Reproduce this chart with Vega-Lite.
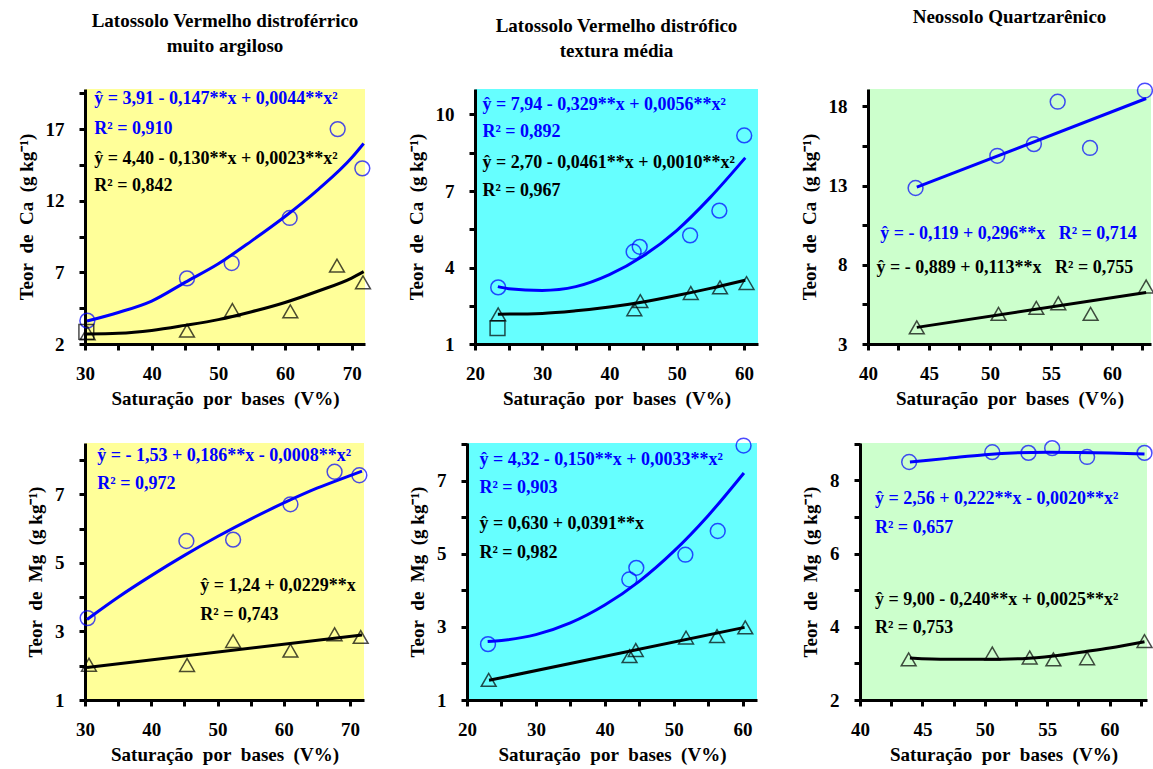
{
  "$schema": "https://vega.github.io/schema/vega-lite/v6.json",
  "background": "white",
  "padding": {"left": 17, "top": 8, "right": 4, "bottom": 2},
  "datasets": {
    "pts": [
      {"p": 1, "s": "A", "x": 30.35, "y": 3.63}, {"p": 1, "s": "A", "x": 45.3, "y": 6.58}, {"p": 1, "s": "A", "x": 52.0, "y": 7.65},
      {"p": 1, "s": "A", "x": 60.7, "y": 10.8}, {"p": 1, "s": "A", "x": 67.9, "y": 17.0}, {"p": 1, "s": "A", "x": 71.6, "y": 14.26},
      {"p": 1, "s": "B", "x": 30.4, "y": 2.75}, {"p": 1, "s": "B", "x": 45.3, "y": 2.93}, {"p": 1, "s": "B", "x": 52.1, "y": 4.37},
      {"p": 1, "s": "B", "x": 60.8, "y": 4.28}, {"p": 1, "s": "B", "x": 67.8, "y": 7.47}, {"p": 1, "s": "B", "x": 71.7, "y": 6.3},
      {"p": 1, "s": "C", "x": 30.2, "y": 2.85},
      {"p": 2, "s": "A", "x": 23.45, "y": 3.22}, {"p": 2, "s": "A", "x": 43.6, "y": 4.62}, {"p": 2, "s": "A", "x": 44.5, "y": 4.81},
      {"p": 2, "s": "A", "x": 52.0, "y": 5.26}, {"p": 2, "s": "A", "x": 56.35, "y": 6.23}, {"p": 2, "s": "A", "x": 60.05, "y": 9.18},
      {"p": 2, "s": "B", "x": 23.45, "y": 2.16}, {"p": 2, "s": "B", "x": 43.7, "y": 2.36}, {"p": 2, "s": "B", "x": 44.6, "y": 2.68},
      {"p": 2, "s": "B", "x": 52.1, "y": 3.0}, {"p": 2, "s": "B", "x": 56.45, "y": 3.22}, {"p": 2, "s": "B", "x": 60.4, "y": 3.39},
      {"p": 2, "s": "C", "x": 23.35, "y": 1.62},
      {"p": 3, "s": "A", "x": 43.9, "y": 12.85}, {"p": 3, "s": "A", "x": 50.6, "y": 14.88}, {"p": 3, "s": "A", "x": 53.6, "y": 15.62},
      {"p": 3, "s": "A", "x": 55.55, "y": 18.3}, {"p": 3, "s": "A", "x": 58.2, "y": 15.38}, {"p": 3, "s": "A", "x": 62.7, "y": 19.0},
      {"p": 3, "s": "B", "x": 44.0, "y": 4.05}, {"p": 3, "s": "B", "x": 50.7, "y": 4.9}, {"p": 3, "s": "B", "x": 53.8, "y": 5.28},
      {"p": 3, "s": "B", "x": 55.6, "y": 5.57}, {"p": 3, "s": "B", "x": 58.25, "y": 4.9}, {"p": 3, "s": "B", "x": 62.8, "y": 6.63},
      {"p": 4, "s": "A", "x": 30.4, "y": 3.39}, {"p": 4, "s": "A", "x": 45.3, "y": 5.64}, {"p": 4, "s": "A", "x": 52.35, "y": 5.68},
      {"p": 4, "s": "A", "x": 61.0, "y": 6.71}, {"p": 4, "s": "A", "x": 67.66, "y": 7.66}, {"p": 4, "s": "A", "x": 71.4, "y": 7.56},
      {"p": 4, "s": "B", "x": 30.6, "y": 2.03}, {"p": 4, "s": "B", "x": 45.4, "y": 2.02}, {"p": 4, "s": "B", "x": 52.35, "y": 2.72},
      {"p": 4, "s": "B", "x": 61.0, "y": 2.44}, {"p": 4, "s": "B", "x": 67.66, "y": 2.92}, {"p": 4, "s": "B", "x": 71.6, "y": 2.84},
      {"p": 5, "s": "A", "x": 23.05, "y": 2.53}, {"p": 5, "s": "A", "x": 43.56, "y": 4.3}, {"p": 5, "s": "A", "x": 44.58, "y": 4.62},
      {"p": 5, "s": "A", "x": 51.7, "y": 4.98}, {"p": 5, "s": "A", "x": 56.4, "y": 5.63}, {"p": 5, "s": "A", "x": 60.15, "y": 7.97},
      {"p": 5, "s": "B", "x": 23.15, "y": 1.55}, {"p": 5, "s": "B", "x": 43.6, "y": 2.2}, {"p": 5, "s": "B", "x": 44.5, "y": 2.37},
      {"p": 5, "s": "B", "x": 51.8, "y": 2.71}, {"p": 5, "s": "B", "x": 56.3, "y": 2.75}, {"p": 5, "s": "B", "x": 60.4, "y": 2.99},
      {"p": 6, "s": "A", "x": 43.94, "y": 8.5}, {"p": 6, "s": "A", "x": 50.6, "y": 8.77}, {"p": 6, "s": "A", "x": 53.5, "y": 8.75},
      {"p": 6, "s": "A", "x": 55.4, "y": 8.88}, {"p": 6, "s": "A", "x": 58.2, "y": 8.64}, {"p": 6, "s": "A", "x": 62.8, "y": 8.75},
      {"p": 6, "s": "B", "x": 43.9, "y": 3.11}, {"p": 6, "s": "B", "x": 50.6, "y": 3.27}, {"p": 6, "s": "B", "x": 53.6, "y": 3.16},
      {"p": 6, "s": "B", "x": 55.5, "y": 3.11}, {"p": 6, "s": "B", "x": 58.2, "y": 3.14}, {"p": 6, "s": "B", "x": 62.8, "y": 3.61}
    ],
    "crv": [
      {"p": 1, "s": "A", "x": 30.3, "y": 3.6}, {"p": 1, "s": "A", "x": 35, "y": 4.2}, {"p": 1, "s": "A", "x": 40, "y": 5.0},
      {"p": 1, "s": "A", "x": 45, "y": 6.3}, {"p": 1, "s": "A", "x": 50, "y": 7.6}, {"p": 1, "s": "A", "x": 55, "y": 9.2},
      {"p": 1, "s": "A", "x": 60, "y": 10.9}, {"p": 1, "s": "A", "x": 65, "y": 12.8}, {"p": 1, "s": "A", "x": 70, "y": 15.0},
      {"p": 1, "s": "A", "x": 71.8, "y": 16.0},
      {"p": 1, "s": "B", "x": 30.3, "y": 2.7}, {"p": 1, "s": "B", "x": 35, "y": 2.75}, {"p": 1, "s": "B", "x": 40, "y": 2.95},
      {"p": 1, "s": "B", "x": 45, "y": 3.3}, {"p": 1, "s": "B", "x": 50, "y": 3.7}, {"p": 1, "s": "B", "x": 55, "y": 4.25},
      {"p": 1, "s": "B", "x": 60, "y": 4.9}, {"p": 1, "s": "B", "x": 65, "y": 5.7}, {"p": 1, "s": "B", "x": 70, "y": 6.6},
      {"p": 1, "s": "B", "x": 71.8, "y": 7.05},
      {"p": 2, "s": "A", "x": 23.4, "y": 3.25}, {"p": 2, "s": "A", "x": 25, "y": 3.17}, {"p": 2, "s": "A", "x": 30, "y": 3.1},
      {"p": 2, "s": "A", "x": 35, "y": 3.25}, {"p": 2, "s": "A", "x": 40, "y": 3.72}, {"p": 2, "s": "A", "x": 45, "y": 4.45},
      {"p": 2, "s": "A", "x": 50, "y": 5.45}, {"p": 2, "s": "A", "x": 55, "y": 6.75}, {"p": 2, "s": "A", "x": 60.2, "y": 8.3},
      {"p": 2, "s": "B", "x": 23.4, "y": 2.17}, {"p": 2, "s": "B", "x": 30, "y": 2.2}, {"p": 2, "s": "B", "x": 35, "y": 2.3},
      {"p": 2, "s": "B", "x": 40, "y": 2.45}, {"p": 2, "s": "B", "x": 45, "y": 2.65}, {"p": 2, "s": "B", "x": 50, "y": 2.9},
      {"p": 2, "s": "B", "x": 55, "y": 3.18}, {"p": 2, "s": "B", "x": 60.2, "y": 3.5},
      {"p": 3, "s": "A", "x": 44, "y": 12.9}, {"p": 3, "s": "A", "x": 62.8, "y": 18.5},
      {"p": 3, "s": "B", "x": 44, "y": 4.05}, {"p": 3, "s": "B", "x": 62.8, "y": 6.25},
      {"p": 4, "s": "A", "x": 30.3, "y": 3.35}, {"p": 4, "s": "A", "x": 35, "y": 4.0}, {"p": 4, "s": "A", "x": 40, "y": 4.63},
      {"p": 4, "s": "A", "x": 45, "y": 5.22}, {"p": 4, "s": "A", "x": 50, "y": 5.77}, {"p": 4, "s": "A", "x": 55, "y": 6.28},
      {"p": 4, "s": "A", "x": 60, "y": 6.75}, {"p": 4, "s": "A", "x": 65, "y": 7.18}, {"p": 4, "s": "A", "x": 70, "y": 7.55},
      {"p": 4, "s": "A", "x": 71.8, "y": 7.68},
      {"p": 4, "s": "B", "x": 30.3, "y": 1.95}, {"p": 4, "s": "B", "x": 71.8, "y": 2.9},
      {"p": 5, "s": "A", "x": 23, "y": 2.6}, {"p": 5, "s": "A", "x": 25, "y": 2.63}, {"p": 5, "s": "A", "x": 30, "y": 2.79},
      {"p": 5, "s": "A", "x": 35, "y": 3.11}, {"p": 5, "s": "A", "x": 40, "y": 3.6}, {"p": 5, "s": "A", "x": 45, "y": 4.25},
      {"p": 5, "s": "A", "x": 50, "y": 5.07}, {"p": 5, "s": "A", "x": 55, "y": 6.05}, {"p": 5, "s": "A", "x": 60.2, "y": 7.22},
      {"p": 5, "s": "B", "x": 23.2, "y": 1.54}, {"p": 5, "s": "B", "x": 60.3, "y": 2.99},
      {"p": 6, "s": "A", "x": 44, "y": 8.5}, {"p": 6, "s": "A", "x": 47, "y": 8.6}, {"p": 6, "s": "A", "x": 50, "y": 8.7},
      {"p": 6, "s": "A", "x": 55, "y": 8.77}, {"p": 6, "s": "A", "x": 60, "y": 8.75}, {"p": 6, "s": "A", "x": 62.8, "y": 8.72},
      {"p": 6, "s": "B", "x": 44, "y": 3.15}, {"p": 6, "s": "B", "x": 47, "y": 3.11}, {"p": 6, "s": "B", "x": 50, "y": 3.11},
      {"p": 6, "s": "B", "x": 53, "y": 3.13}, {"p": 6, "s": "B", "x": 55.5, "y": 3.2}, {"p": 6, "s": "B", "x": 58, "y": 3.32},
      {"p": 6, "s": "B", "x": 60, "y": 3.42}, {"p": 6, "s": "B", "x": 62.8, "y": 3.59}
    ],
    "lbl": [
      {"p": 1, "s": "A", "x": 31.4, "y": 18.74, "t": "ŷ = 3,91 - 0,147**x + 0,0044**x²"},
      {"p": 1, "s": "A", "x": 31.4, "y": 16.65, "t": "R² = 0,910"},
      {"p": 1, "s": "B", "x": 31.4, "y": 14.56, "t": "ŷ = 4,40 - 0,130**x + 0,0023**x²"},
      {"p": 1, "s": "B", "x": 31.4, "y": 12.65, "t": "R² = 0,842"},
      {"p": 2, "s": "A", "x": 21.1, "y": 10.17, "t": "ŷ = 7,94 - 0,329**x + 0,0056**x²"},
      {"p": 2, "s": "A", "x": 21.1, "y": 9.11, "t": "R² = 0,892"},
      {"p": 2, "s": "B", "x": 21.1, "y": 7.9, "t": "ŷ = 2,70 - 0,0461**x + 0,0010**x²"},
      {"p": 2, "s": "B", "x": 21.1, "y": 6.81, "t": "R² = 0,967"},
      {"p": 3, "s": "A", "x": 41.0, "y": 9.65, "t": "ŷ = - 0,119 + 0,296**x\u00a0\u00a0\u00a0R² = 0,714"},
      {"p": 3, "s": "B", "x": 40.7, "y": 7.47, "t": "ŷ = - 0,889 + 0,113**x\u00a0\u00a0\u00a0R² = 0,755"},
      {"p": 4, "s": "A", "x": 31.85, "y": 7.97, "t": "ŷ = - 1,53 + 0,186**x - 0,0008**x²"},
      {"p": 4, "s": "A", "x": 31.85, "y": 7.15, "t": "R² = 0,972"},
      {"p": 4, "s": "B", "x": 47.4, "y": 4.17, "t": "ŷ = 1,24 + 0,0229**x"},
      {"p": 4, "s": "B", "x": 47.4, "y": 3.33, "t": "R² = 0,743"},
      {"p": 5, "s": "A", "x": 21.8, "y": 7.45, "t": "ŷ = 4,32 - 0,150**x + 0,0033**x²"},
      {"p": 5, "s": "A", "x": 21.8, "y": 6.67, "t": "R² = 0,903"},
      {"p": 5, "s": "B", "x": 21.8, "y": 5.69, "t": "ŷ = 0,630 + 0,0391**x"},
      {"p": 5, "s": "B", "x": 21.8, "y": 4.9, "t": "R² = 0,982"},
      {"p": 6, "s": "A", "x": 41.2, "y": 7.35, "t": "ŷ = 2,56 + 0,222**x - 0,0020**x²"},
      {"p": 6, "s": "A", "x": 41.2, "y": 6.55, "t": "R² = 0,657"},
      {"p": 6, "s": "B", "x": 41.2, "y": 4.59, "t": "ŷ = 9,00 - 0,240**x + 0,0025**x²"},
      {"p": 6, "s": "B", "x": 41.2, "y": 3.82, "t": "R² = 0,753"}
    ]
  },
  "config": {
    "view": {"stroke": null},
    "axis": {
      "grid": false, "ticks": true, "domainColor": "black", "domainWidth": 3, "tickColor": "black", "tickWidth": 3, "tickSize": 6,
      "labelFont": "Liberation Serif", "labelFontSize": 19, "labelFontWeight": "bold", "labelColor": "black",
      "titleFont": "Liberation Serif", "titleFontSize": 19, "titleFontWeight": "bold", "titleColor": "black",
      "labelOverlap": false, "labelFlush": false
    },
    "axisX": {"labelPadding": 14, "titlePadding": 6},
    "axisY": {"labelPadding": 15, "titlePadding": 9},
    "title": {"font": "Liberation Serif", "fontSize": 19, "fontWeight": "bold", "color": "black", "anchor": "middle", "frame": "group", "offset": 28, "lineHeight": 25, "baseline": "bottom"},
    "point": {"filled": false, "strokeWidth": 1.5, "size": 220},
    "line": {"interpolate": "monotone", "strokeWidth": 3},
    "text": {"align": "left", "baseline": "alphabetic", "font": "Liberation Serif", "fontSize": 18, "fontWeight": "bold"}
  },
  "spacing": 26,
  "vconcat": [
    {
      "spacing": 110,
      "bounds": "flush",
      "resolve": {"scale": {"x": "independent", "y": "independent"}},
      "hconcat": [
        {
          "width": 280, "height": 255,
          "title": {"text": ["Latossolo Vermelho distroférrico", "muito argiloso"]},
          "view": {"fill": "#FFFF99", "stroke": null},
          "encoding": {
            "x": {"field": "x", "type": "quantitative", "scale": {"domain": [30, 72], "nice": false, "zero": false},
              "axis": {"title": "Saturação\u00a0 por\u00a0 bases\u00a0 (V%)", "values": [30, 35, 40, 45, 50, 55, 60, 65, 70], "labelExpr": "datum.value % 10 == 0 ? format(datum.value, 'd') : ''"}},
            "y": {"field": "y", "type": "quantitative", "scale": {"domain": [2, 19.8], "nice": false, "zero": false},
              "axis": {"title": "Teor\u00a0 de\u00a0 Ca\u00a0 (g kg⁻¹)", "values": [2, 4.5, 7, 9.5, 12, 14.5, 17, 19.5], "labelExpr": "datum.value % 5 == 2 ? format(datum.value, 'd') : ''"}}
          },
          "layer": [
            {"data": {"name": "crv"}, "transform": [{"filter": "datum.p == 1"}], "mark": "line",
              "encoding": {"color": {"field": "s", "type": "nominal", "scale": {"domain": ["A", "B", "C"], "range": ["#0000FF", "#000000", "#000000"]}, "legend": null}}},
            {"data": {"name": "pts"}, "transform": [{"filter": "datum.p == 1"}], "mark": "point",
              "encoding": {"color": {"field": "s", "type": "nominal", "scale": {"domain": ["A", "B", "C"], "range": ["#0000FF", "#000000", "#000000"]}, "legend": null},
                "shape": {"field": "s", "type": "nominal", "scale": {"domain": ["A", "B", "C"], "range": ["circle", "triangle-up", "square"]}, "legend": null}}},
            {"data": {"name": "lbl"}, "transform": [{"filter": "datum.p == 1"}], "mark": "text",
              "encoding": {"text": {"field": "t"}, "color": {"field": "s", "type": "nominal", "scale": {"domain": ["A", "B", "C"], "range": ["#0000FF", "#000000", "#000000"]}, "legend": null}}}
          ]
        },
        {
          "width": 283, "height": 255,
          "title": {"text": ["Latossolo Vermelho distrófico", "textura média"]},
          "view": {"fill": "#66FFFF", "stroke": null},
          "encoding": {
            "x": {"field": "x", "type": "quantitative", "scale": {"domain": [20, 62.1], "nice": false, "zero": false},
              "axis": {"title": "Saturação\u00a0 por\u00a0 bases\u00a0 (V%)", "values": [20, 25, 30, 35, 40, 45, 50, 55, 60], "labelExpr": "datum.value % 10 == 0 ? format(datum.value, 'd') : ''"}},
            "y": {"field": "y", "type": "quantitative", "scale": {"domain": [1, 11], "nice": false, "zero": false},
              "axis": {"title": "Teor\u00a0 de\u00a0 Ca\u00a0 (g kg⁻¹)", "values": [1, 2.5, 4, 5.5, 7, 8.5, 10], "labelExpr": "datum.value % 3 == 1 ? format(datum.value, 'd') : ''"}}
          },
          "layer": [
            {"data": {"name": "crv"}, "transform": [{"filter": "datum.p == 2"}], "mark": "line",
              "encoding": {"color": {"field": "s", "type": "nominal", "scale": {"domain": ["A", "B", "C"], "range": ["#0000FF", "#000000", "#000000"]}, "legend": null}}},
            {"data": {"name": "pts"}, "transform": [{"filter": "datum.p == 2"}], "mark": "point",
              "encoding": {"color": {"field": "s", "type": "nominal", "scale": {"domain": ["A", "B", "C"], "range": ["#0000FF", "#000000", "#000000"]}, "legend": null},
                "shape": {"field": "s", "type": "nominal", "scale": {"domain": ["A", "B", "C"], "range": ["circle", "triangle-up", "square"]}, "legend": null}}},
            {"data": {"name": "lbl"}, "transform": [{"filter": "datum.p == 2"}], "mark": "text",
              "encoding": {"text": {"field": "t"}, "color": {"field": "s", "type": "nominal", "scale": {"domain": ["A", "B", "C"], "range": ["#0000FF", "#000000", "#000000"]}, "legend": null}}}
          ]
        },
        {
          "width": 283, "height": 255,
          "title": {"text": ["Neossolo Quartzarênico", " "]},
          "view": {"fill": "#CCFFCC", "stroke": null},
          "encoding": {
            "x": {"field": "x", "type": "quantitative", "scale": {"domain": [40, 63.2], "nice": false, "zero": false},
              "axis": {"title": "Saturação\u00a0 por\u00a0 bases\u00a0 (V%)", "values": [40, 42.5, 45, 47.5, 50, 52.5, 55, 57.5, 60, 62.5], "labelExpr": "datum.value % 5 == 0 ? format(datum.value, 'd') : ''"}},
            "y": {"field": "y", "type": "quantitative", "scale": {"domain": [3, 19.1], "nice": false, "zero": false},
              "axis": {"title": "Teor\u00a0 de\u00a0 Ca\u00a0 (g kg⁻¹)", "values": [3, 5.5, 8, 10.5, 13, 15.5, 18], "labelExpr": "datum.value % 5 == 3 ? format(datum.value, 'd') : ''"}}
          },
          "layer": [
            {"data": {"name": "crv"}, "transform": [{"filter": "datum.p == 3"}], "mark": "line",
              "encoding": {"color": {"field": "s", "type": "nominal", "scale": {"domain": ["A", "B", "C"], "range": ["#0000FF", "#000000", "#000000"]}, "legend": null}}},
            {"data": {"name": "pts"}, "transform": [{"filter": "datum.p == 3"}], "mark": "point",
              "encoding": {"color": {"field": "s", "type": "nominal", "scale": {"domain": ["A", "B", "C"], "range": ["#0000FF", "#000000", "#000000"]}, "legend": null},
                "shape": {"field": "s", "type": "nominal", "scale": {"domain": ["A", "B", "C"], "range": ["circle", "triangle-up", "square"]}, "legend": null}}},
            {"data": {"name": "lbl"}, "transform": [{"filter": "datum.p == 3"}], "mark": "text",
              "encoding": {"text": {"field": "t"}, "color": {"field": "s", "type": "nominal", "scale": {"domain": ["A", "B", "C"], "range": ["#0000FF", "#000000", "#000000"]}, "legend": null}}}
          ]
        }
      ]
    },
    {
      "spacing": 103,
      "bounds": "flush",
      "resolve": {"scale": {"x": "independent", "y": "independent"}},
      "hconcat": [
        {
          "width": 279, "height": 257,
          "view": {"fill": "#FFFF99", "stroke": null},
          "encoding": {
            "x": {"field": "x", "type": "quantitative", "scale": {"domain": [30, 72.1], "nice": false, "zero": false},
              "axis": {"title": "Saturação\u00a0 por\u00a0 bases\u00a0 (V%)", "values": [30, 35, 40, 45, 50, 55, 60, 65, 70], "labelExpr": "datum.value % 10 == 0 ? format(datum.value, 'd') : ''"}},
            "y": {"field": "y", "type": "quantitative", "scale": {"domain": [1, 8.5], "nice": false, "zero": false},
              "axis": {"title": "Teor\u00a0 de\u00a0 Mg\u00a0 (g kg⁻¹)", "values": [1, 2, 3, 4, 5, 6, 7, 8], "labelExpr": "datum.value % 2 == 1 ? format(datum.value, 'd') : ''"}}
          },
          "layer": [
            {"data": {"name": "crv"}, "transform": [{"filter": "datum.p == 4"}], "mark": "line",
              "encoding": {"color": {"field": "s", "type": "nominal", "scale": {"domain": ["A", "B", "C"], "range": ["#0000FF", "#000000", "#000000"]}, "legend": null}}},
            {"data": {"name": "pts"}, "transform": [{"filter": "datum.p == 4"}], "mark": "point",
              "encoding": {"color": {"field": "s", "type": "nominal", "scale": {"domain": ["A", "B", "C"], "range": ["#0000FF", "#000000", "#000000"]}, "legend": null},
                "shape": {"field": "s", "type": "nominal", "scale": {"domain": ["A", "B", "C"], "range": ["circle", "triangle-up", "square"]}, "legend": null}}},
            {"data": {"name": "lbl"}, "transform": [{"filter": "datum.p == 4"}], "mark": "text",
              "encoding": {"text": {"field": "t"}, "color": {"field": "s", "type": "nominal", "scale": {"domain": ["A", "B", "C"], "range": ["#0000FF", "#000000", "#000000"]}, "legend": null}}}
          ]
        },
        {
          "width": 290, "height": 257,
          "view": {"fill": "#66FFFF", "stroke": null},
          "encoding": {
            "x": {"field": "x", "type": "quantitative", "scale": {"domain": [20, 62.1], "nice": false, "zero": false},
              "axis": {"title": "Saturação\u00a0 por\u00a0 bases\u00a0 (V%)", "values": [20, 25, 30, 35, 40, 45, 50, 55, 60], "labelExpr": "datum.value % 10 == 0 ? format(datum.value, 'd') : ''"}},
            "y": {"field": "y", "type": "quantitative", "scale": {"domain": [1, 8.04], "nice": false, "zero": false},
              "axis": {"title": "Teor\u00a0 de\u00a0 Mg\u00a0 (g kg⁻¹)", "values": [1, 2, 3, 4, 5, 6, 7, 8], "labelExpr": "datum.value % 2 == 1 ? format(datum.value, 'd') : ''"}}
          },
          "layer": [
            {"data": {"name": "crv"}, "transform": [{"filter": "datum.p == 5"}], "mark": "line",
              "encoding": {"color": {"field": "s", "type": "nominal", "scale": {"domain": ["A", "B", "C"], "range": ["#0000FF", "#000000", "#000000"]}, "legend": null}}},
            {"data": {"name": "pts"}, "transform": [{"filter": "datum.p == 5"}], "mark": "point",
              "encoding": {"color": {"field": "s", "type": "nominal", "scale": {"domain": ["A", "B", "C"], "range": ["#0000FF", "#000000", "#000000"]}, "legend": null},
                "shape": {"field": "s", "type": "nominal", "scale": {"domain": ["A", "B", "C"], "range": ["circle", "triangle-up", "square"]}, "legend": null}}},
            {"data": {"name": "lbl"}, "transform": [{"filter": "datum.p == 5"}], "mark": "text",
              "encoding": {"text": {"field": "t"}, "color": {"field": "s", "type": "nominal", "scale": {"domain": ["A", "B", "C"], "range": ["#0000FF", "#000000", "#000000"]}, "legend": null}}}
          ]
        },
        {
          "width": 287, "height": 257,
          "view": {"fill": "#CCFFCC", "stroke": null},
          "encoding": {
            "x": {"field": "x", "type": "quantitative", "scale": {"domain": [40, 63], "nice": false, "zero": false},
              "axis": {"title": "Saturação\u00a0 por\u00a0 bases\u00a0 (V%)", "values": [40, 42.5, 45, 47.5, 50, 52.5, 55, 57.5, 60, 62.5], "labelExpr": "datum.value % 5 == 0 ? format(datum.value, 'd') : ''"}},
            "y": {"field": "y", "type": "quantitative", "scale": {"domain": [2, 9.02], "nice": false, "zero": false},
              "axis": {"title": "Teor\u00a0 de\u00a0 Mg\u00a0 (g kg⁻¹)", "values": [2, 3, 4, 5, 6, 7, 8, 9], "labelExpr": "datum.value % 2 == 0 ? format(datum.value, 'd') : ''"}}
          },
          "layer": [
            {"data": {"name": "crv"}, "transform": [{"filter": "datum.p == 6"}], "mark": "line",
              "encoding": {"color": {"field": "s", "type": "nominal", "scale": {"domain": ["A", "B", "C"], "range": ["#0000FF", "#000000", "#000000"]}, "legend": null}}},
            {"data": {"name": "pts"}, "transform": [{"filter": "datum.p == 6"}], "mark": "point",
              "encoding": {"color": {"field": "s", "type": "nominal", "scale": {"domain": ["A", "B", "C"], "range": ["#0000FF", "#000000", "#000000"]}, "legend": null},
                "shape": {"field": "s", "type": "nominal", "scale": {"domain": ["A", "B", "C"], "range": ["circle", "triangle-up", "square"]}, "legend": null}}},
            {"data": {"name": "lbl"}, "transform": [{"filter": "datum.p == 6"}], "mark": "text",
              "encoding": {"text": {"field": "t"}, "color": {"field": "s", "type": "nominal", "scale": {"domain": ["A", "B", "C"], "range": ["#0000FF", "#000000", "#000000"]}, "legend": null}}}
          ]
        }
      ]
    }
  ]
}
